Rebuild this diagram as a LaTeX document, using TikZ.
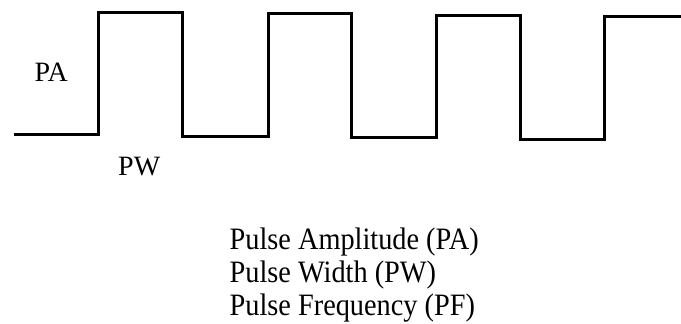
\documentclass[tikz,border=0pt]{standalone}
\usepackage{fontspec}
\setmainfont{Liberation Serif}
\begin{document}
\begin{tikzpicture}[x=1pt,y=-1pt,
  wave/.style={line width=3pt,line join=miter,line cap=butt},
  lbl/.style={inner sep=0pt,anchor=base west,font=\fontsize{28}{33}\selectfont},
  legend/.style={lbl,font=\fontsize{28.3}{33}\selectfont}]
\useasboundingbox (0,0) rectangle (681,324);
% square pulse train
\draw[wave] (14,134.3) -- (98.3,134.3) -- (98.3,12.8) -- (182.3,12.8)
  -- (182.3,136) -- (268.3,136) -- (268.3,13.5) -- (351.7,13.5)
  -- (351.7,137.7) -- (436.7,137.7) -- (436.7,15) -- (520,15)
  -- (520,139.3) -- (604,139.3) -- (604,16.7) -- (681,16.7);
% labels on the waveform
\node[lbl] (pa) at (34.5,81) {PA};
\node[lbl] (pw) at (118,175.5) {PW};
% legend, set slightly taller than wide
\node[legend] (l1) at (229.5,249.3) {\scalebox{1}[1.1]{Pulse Amplitude (PA)}};
\node[legend] (l2) at (229.5,282.5) {\scalebox{1}[1.1]{Pulse Width (PW)}};
\node[legend] (l3) at (229.5,315.5) {\scalebox{1}[1.1]{Pulse Frequency (PF)}};
\end{tikzpicture}
\end{document}
